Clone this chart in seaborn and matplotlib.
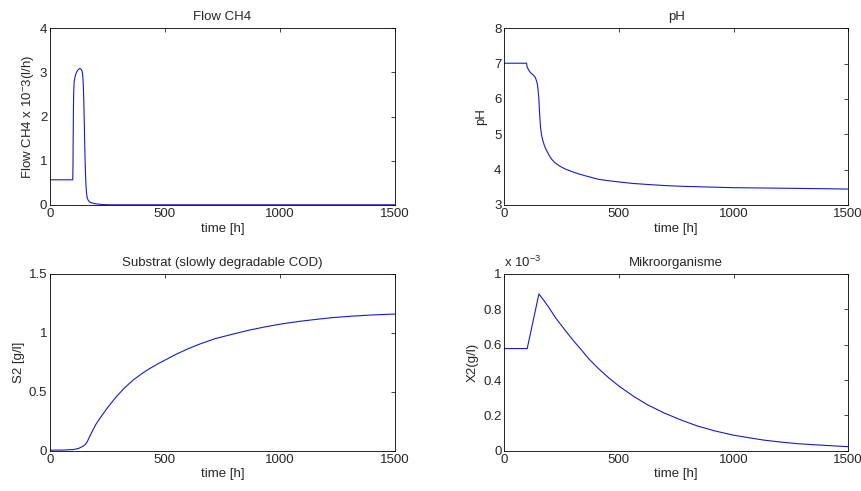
import numpy as np
import pandas as pd
import matplotlib
matplotlib.use("Agg")
import matplotlib.pyplot as plt
import seaborn as sns

# Flow CH4 (x 10^-3 l/h)
t_flow = [0, 99, 100, 101, 102, 103, 105, 108, 112, 118, 124, 130, 136, 140, 143, 145, 147, 149, 151, 153, 155, 157,
          159, 162, 166, 172, 181, 195, 210, 230, 260, 1500]
v_flow = [0.57, 0.57, 0.9, 1.6, 2.2, 2.55, 2.78, 2.88, 2.96, 3.03, 3.07, 3.09, 3.07, 3.02, 2.9, 2.7, 2.35, 1.9, 1.4, 0.95, 0.62, 0.4,
          0.26, 0.16, 0.11, 0.07, 0.05, 0.03, 0.02, 0.01, 0.005, 0.005]

# pH
t_ph = [0, 97, 100, 104, 110, 118, 128, 136, 141, 145, 148, 151, 153, 155, 158, 162, 167, 174, 180, 188, 196, 206, 220,
        242, 265, 293, 320, 351, 380, 409, 450, 503, 560, 626, 700, 771, 880, 996, 1140, 1278, 1400, 1500]
v_ph = [7.01, 7.01, 6.9, 6.85, 6.78, 6.72, 6.67, 6.6, 6.5, 6.4, 6.2, 6.0, 5.7, 5.5, 5.2, 5.0, 4.85, 4.7, 4.6, 4.5, 4.4, 4.3, 4.2,
        4.1, 4.02, 3.95, 3.89, 3.83, 3.78, 3.73, 3.69, 3.65, 3.61, 3.58, 3.55, 3.53, 3.51, 3.49, 3.48, 3.47, 3.46, 3.45]

# S2 (g/l)
t_s2 = [0, 60, 101, 125, 145, 155, 162, 175, 188, 200, 217, 250, 289, 325, 362, 400, 434, 470, 506, 550, 600, 651, 720,
        796, 870, 941, 1010, 1085, 1160, 1230, 1320, 1410, 1500]
v_s2 = [0.005, 0.006, 0.01, 0.02, 0.04, 0.055, 0.077, 0.13, 0.18, 0.225, 0.275, 0.365, 0.46, 0.535, 0.6, 0.655, 0.698, 0.738, 0.775,
        0.82, 0.865, 0.905, 0.952, 0.99, 1.025, 1.053, 1.077, 1.098, 1.115, 1.13, 1.143, 1.153, 1.16]

# X2 (x 10^-3 g/l)
t_x2 = [0, 100, 151, 170, 191, 225, 264, 300, 336, 370, 409, 455, 503, 565, 626, 700, 771, 840, 916, 996, 1065, 1133,
        1200, 1278, 1390, 1500]
v_x2 = [0.578, 0.578, 0.887, 0.855, 0.817, 0.75, 0.684, 0.625, 0.571, 0.518, 0.467, 0.413, 0.363, 0.307, 0.259, 0.212, 0.174,
        0.141, 0.113, 0.089, 0.074, 0.06, 0.05, 0.04, 0.031, 0.023]

sns.set_style("white")
plt.rcParams['font.family'] = ['Liberation Sans', 'DejaVu Sans']
plt.rcParams['font.size'] = 9.5
plt.rcParams['mathtext.fontset'] = 'custom'
plt.rcParams['mathtext.rm'] = 'Liberation Sans'

fig = plt.figure(figsize=(8.62, 4.91), dpi=100, facecolor="white")

positions = [
    [0.058, 0.5825, 0.400, 0.360],
    [0.585, 0.5825, 0.399, 0.360],
    [0.058, 0.082, 0.400, 0.360],
    [0.585, 0.082, 0.399, 0.360],
]

panels = [
    (t_flow, v_flow, "Flow CH4", r"Flow CH4 x 10$^{-}$3(l/h)", (0, 4), [0, 1, 2, 3, 4], ["0", "1", "2", "3", "4"]),
    (t_ph, v_ph, "pH", "pH", (3, 8), [3, 4, 5, 6, 7, 8], ["3", "4", "5", "6", "7", "8"]),
    (t_s2, v_s2, "Substrat (slowly degradable COD)", "S2 [g/l]", (0, 1.5), [0, 0.5, 1, 1.5], ["0", "0.5", "1", "1.5"]),
    (t_x2, v_x2, "Mikroorganisme", "X2(g/l)", (0, 1), [0, 0.2, 0.4, 0.6, 0.8, 1], ["0", "0.2", "0.4", "0.6", "0.8", "1"]),
]

for pos, (t, v, title, ylab, ylim, yt, ytl) in zip(positions, panels):
    ax = fig.add_axes(pos)
    df = pd.DataFrame({"t": t, "v": v})
    sns.lineplot(data=df, x="t", y="v", ax=ax, color="#1a1ac8", linewidth=0.8)
    ax.set_xlim(0, 1500)
    ax.set_ylim(*ylim)
    ax.set_xticks([0, 500, 1000, 1500])
    ax.set_xticklabels(["0", "500", "1000", "1500"])
    ax.set_yticks(yt)
    ax.set_yticklabels(ytl)
    ax.set_xlabel("time [h]", labelpad=2)
    ax.set_ylabel(ylab, labelpad=5 if title == "pH" else 3)
    ax.set_title(title, fontsize=9.5, pad=6)
    ax.tick_params(direction="in", top=True, right=True, length=3, width=0.6, pad=2, labelsize=9.5)
    for s in ax.spines.values():
        s.set_visible(True)
        s.set_color("black")
        s.set_linewidth(0.6)
    if title == "Mikroorganisme":
        ax.text(0.0, 1.02, r"x 10$^{-3}$", transform=ax.transAxes, ha="left", va="bottom", fontsize=9.5)

fig.savefig("out.png", dpi=100, facecolor="white")
